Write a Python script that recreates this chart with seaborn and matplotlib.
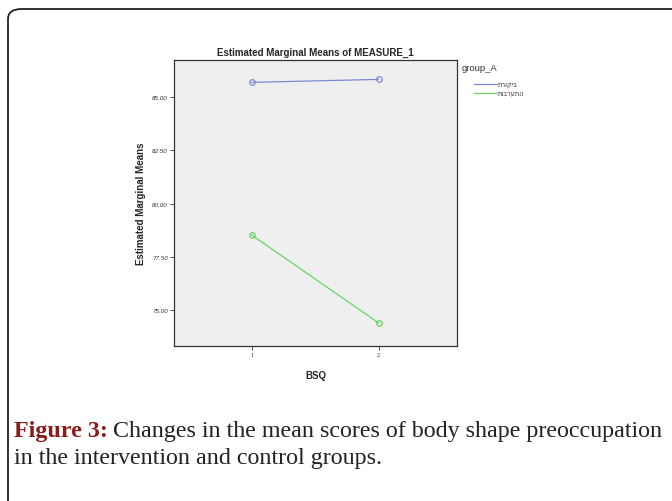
import matplotlib
matplotlib.use("Agg")
import matplotlib.pyplot as plt
from matplotlib.patches import FancyBboxPatch
from matplotlib.lines import Line2D
import seaborn as sns
import pandas as pd

# Data
bsq_levels = [1, 2]
group_names = ["ביקורת", "התערבות"]  # control, intervention (logical order)
control_means = [85.69, 85.83]
intervention_means = [78.52, 74.39]
y_ticks = [75.0, 77.5, 80.0, 82.5, 85.0]
colors = ["#7a8ad8", "#66d466"]

df = pd.DataFrame({
    "BSQ": bsq_levels * 2,
    "mean": control_means + intervention_means,
    "group": [group_names[0]] * 2 + [group_names[1]] * 2,
})

sns.set_style("white")
plt.rcParams['font.family'] = ['Liberation Sans', 'DejaVu Sans']

fig = plt.figure(figsize=(6.72, 5.02), dpi=100)
W, H = 672, 502

def fx(px):
    return px / W

def fy(py):
    return 1 - py / H

# outer rounded frame
frame = FancyBboxPatch((fx(8), -0.05), 1.2, fy(10) + 0.05,
                       boxstyle="round,pad=0,rounding_size=0.02",
                       transform=fig.transFigure, fill=False, lw=1.3,
                       edgecolor="#222222", clip_on=False)
fig.patches.append(frame)

ax = fig.add_axes([fx(174), fy(347), (457 - 174) / W, (347 - 61) / H])
ax.set_facecolor("#efefef")

for g, c in zip(group_names, colors):
    sub = df[df["group"] == g]
    sns.lineplot(data=sub, x="BSQ", y="mean", color=c, marker="o",
                 markerfacecolor="none", markeredgecolor=c, markersize=4,
                 markeredgewidth=0.9, lw=0.9, ax=ax, legend=False)

ax.set_xlim(0.388, 2.617)
ax.set_ylim(73.31, 86.74)
ax.set_xticks(bsq_levels)
ax.set_xticklabels([str(b) for b in bsq_levels], fontsize=4.5, color="#333333",
                   family="Liberation Serif")
ax.set_yticks(y_ticks)
ax.set_yticklabels([f"{t:.2f}" for t in y_ticks], fontsize=4.5, color="#333333",
                   fontstyle="italic")
ax.tick_params(axis="both", direction="out", length=3, width=0.6, color="#333333",
               pad=1.5, left=True, bottom=True)
for s in ax.spines.values():
    s.set_color("#333333")
    s.set_linewidth(0.9)

ax.set_xlabel("BSQ", fontsize=7, fontweight="bold", labelpad=9)
ax.set_ylabel("Estimated Marginal Means", fontsize=7, fontweight="bold", labelpad=4)
ax.set_title("Estimated Marginal Means of MEASURE_1", fontsize=7, fontweight="bold", pad=4)

# legend (SPSS style: title, then short coloured lines with labels)
fig.text(fx(462), fy(71), "group_A", fontsize=6.8, ha="left", va="baseline",
         color="#333333")
for i, (g, c) in enumerate(zip(group_names, colors)):
    yy = 85 + 8.5 * i
    fig.add_artist(Line2D([fx(474), fx(497)], [fy(yy), fy(yy)], color=c, lw=0.9,
                          transform=fig.transFigure))
    fig.text(fx(498), fy(yy), g[::-1], fontsize=4.8, ha="left", va="center",
             color="#333333", family="DejaVu Sans")

# caption
cap_size = 17.3
t1 = fig.text(fx(14), fy(437), "Figure 3:", fontsize=cap_size, fontweight="bold",
              family="Liberation Serif", color="#8b1c1c", ha="left", va="baseline")
fig.canvas.draw()
bb = t1.get_window_extent(renderer=fig.canvas.get_renderer())
fig.text(fx(bb.x1 + 5), fy(437),
         "Changes in the mean scores of body shape preoccupation",
         fontsize=cap_size, family="Liberation Serif", color="#222222",
         ha="left", va="baseline")
fig.text(fx(14), fy(464), "in the intervention and control groups.",
         fontsize=cap_size, family="Liberation Serif", color="#222222",
         ha="left", va="baseline")

fig.savefig("out.png", dpi=100)
